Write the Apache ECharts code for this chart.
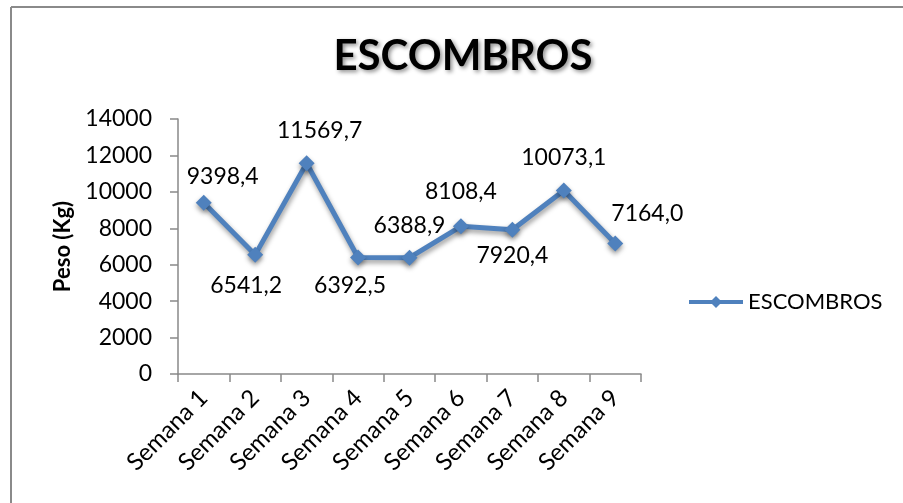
<!DOCTYPE html>
<html>
<head>
<meta charset="utf-8">
<script src="https://cdn.jsdelivr.net/npm/echarts@6/dist/echarts.min.js"></script>
<style>html,body{margin:0;padding:0;background:#fff;}#c{width:903px;height:503px;}</style>
</head>
<body>
<div id="c"></div>
<script>
const categories = ['Semana 1','Semana 2','Semana 3','Semana 4','Semana 5','Semana 6','Semana 7','Semana 8','Semana 9'];
const values = [9398.4, 6541.2, 11569.7, 6392.5, 6388.9, 8108.4, 7920.4, 10073.1, 7164.0];
const seriesName = 'ESCOMBROS';
const yTicks = [0, 2000, 4000, 6000, 8000, 10000, 12000, 14000];
// label placement offsets (style, not data)
const labelOffsets = [[19,-26],[-9,31],[13,-33],[-8,28],[0,-32],[0,-35],[0,26],[0,-33],[32,-30]];

const fmt = v => v.toFixed(1).replace('.', ',');
const chart = echarts.init(document.getElementById('c'));
const FONT = 'Lato';
chart.setOption({
  backgroundColor: '#fff',
  animation: false,
  title: {
    text: 'ESCOMBROS', left: 458, top: 30, textAlign: 'center',
    textStyle: { fontFamily: FONT, fontWeight: 'bold', fontSize: 42, color: '#000',
      textShadowColor: 'rgba(0,0,0,0.45)', textShadowBlur: 4, textShadowOffsetX: 2, textShadowOffsetY: 2 }
  },
  legend: {
    left: 682, top: 286, itemWidth: 54, itemHeight: 15, itemGap: 5,
    data: [seriesName],
    lineStyle: { width: 4 },
    textStyle: { fontFamily: FONT, fontSize: 22, color: '#000' }
  },
  grid: { left: 178, right: 262, top: 119, bottom: 129, containLabel: false },
  xAxis: {
    type: 'category', data: categories, boundaryGap: true,
    axisLine: { lineStyle: { color: '#898989', width: 1.5 } },
    axisTick: { show: true, length: 8, lineStyle: { color: '#898989', width: 1.5 } },
    axisLabel: { rotate: 45, margin: 20, interval: 0, fontFamily: FONT, fontSize: 24, color: '#000' }
  },
  yAxis: {
    type: 'value', min: yTicks[0], max: yTicks[yTicks.length-1], interval: 2000,
    name: 'Peso (Kg)', nameLocation: 'middle', nameGap: 103, nameRotate: 90,
    nameTextStyle: { fontFamily: FONT, fontWeight: 'bold', fontSize: 22, color: '#000' },
    axisLine: { show: true, lineStyle: { color: '#898989', width: 1.5 } },
    axisTick: { show: true, length: 8, lineStyle: { color: '#898989', width: 1.5 } },
    splitLine: { show: false },
    axisLabel: { margin: 26, fontFamily: FONT, fontSize: 23, color: '#000', formatter: v => String(v) }
  },
  series: [{
    name: seriesName, type: 'line',
    data: values.map((v, i) => ({
      value: v,
      label: { show: true, position: 'inside', offset: labelOffsets[i] }
    })),
    symbol: 'diamond', symbolSize: 16,
    lineStyle: { color: '#4F81BD', width: 5, shadowColor: 'rgba(0,0,0,0.4)', shadowBlur: 5, shadowOffsetY: 3, shadowOffsetX: 1 },
    itemStyle: { color: '#4F81BD', shadowColor: 'rgba(0,0,0,0.4)', shadowBlur: 5, shadowOffsetY: 3 },
    label: { show: true, formatter: p => fmt(p.value), fontFamily: FONT, fontSize: 23, color: '#000' }
  }],
  graphic: [
    { type: 'line', shape: { x1: 11, y1: 7, x2: 903, y2: 7 }, style: { stroke: '#8a8a8a', lineWidth: 2 } },
    { type: 'line', shape: { x1: 11, y1: 7, x2: 11, y2: 503 }, style: { stroke: '#8a8a8a', lineWidth: 2 } }
  ]
});
</script>
</body>
</html>
